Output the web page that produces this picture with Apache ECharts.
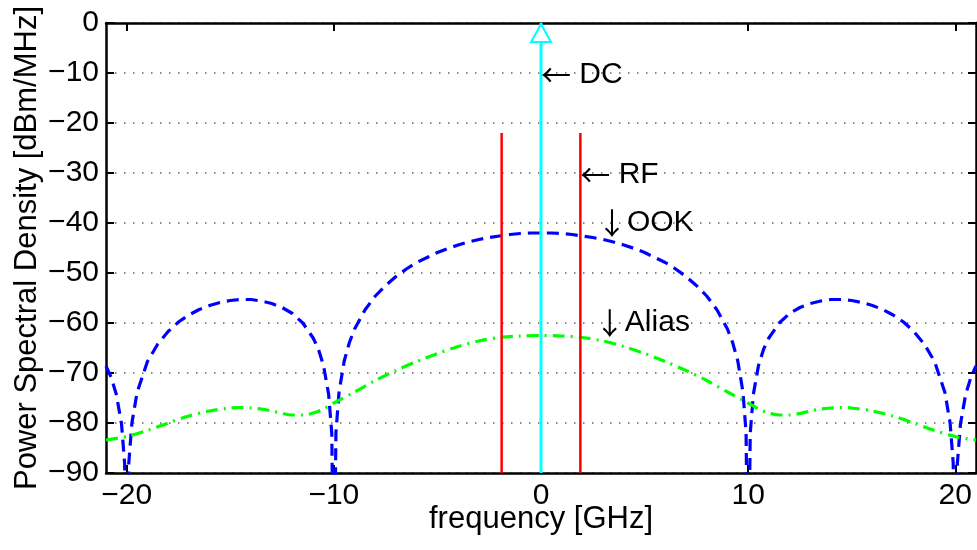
<!DOCTYPE html>
<html>
<head>
<meta charset="utf-8">
<script src="https://cdn.jsdelivr.net/npm/echarts@6/dist/echarts.min.js"></script>
<style>
  html, body { margin: 0; padding: 0; background: #fff; }
  #chart { width: 977px; height: 550px; }
</style>
</head>
<body>
<div id="chart"></div>
<script>
// ---------- data ----------
const xMin = -21, xMax = 21;
const yMin = -90, yMax = 0;
const xTicks = [-20, -10, 0, 10, 20];

// OOK power spectral density (blue dashed), dBm/MHz
const ookFreq = [
  -21, -20.75, -20.5, -20.25, -20.1, -20, -19.9, -19.75, -19.5, -19, -18.5, -18, -17.5, -17, -16.5, -16, -15.5, -15,
  -14.5, -14, -13.5, -13, -12.5, -12, -11.5, -11, -10.75, -10.5, -10.25, -10.1, -10, -9.9, -9.75, -9.5, -9.25,
  -9, -8.5, -8, -7.5, -7, -6.5, -6, -5.5, -5, -4.5, -4, -3.5, -3, -2.5, -2, -1.5, -1, -0.5,
  0,
  0.5, 1, 1.5, 2, 2.5, 3, 3.5, 4, 4.5, 5, 5.5, 6, 6.5, 7, 7.5, 8, 8.5, 9,
  9.25, 9.5, 9.75, 9.9, 10, 10.1, 10.25, 10.5, 10.75, 11, 11.5, 12, 12.5, 13, 13.5, 14, 14.5,
  15, 15.5, 16, 16.5, 17, 17.5, 18, 18.5, 19, 19.5, 19.75, 19.9, 20, 20.1, 20.25, 20.5, 20.75, 21
];
const ookPsd = [
  -68.6, -70.9, -74.3, -80.2, -88.1, -120, -88.0, -80.0, -73.9, -67.7, -64.2, -61.7, -59.8, -58.4, -57.3, -56.5, -55.9, -55.5,
  -55.3, -55.3, -55.6, -56.1, -56.9, -58.1, -60.0, -63.0, -65.2, -68.5, -74.3, -82.1, -120, -81.9, -73.8, -67.6, -63.9,
  -61.2, -57.4, -54.6, -52.5, -50.7, -49.2, -47.9, -46.9, -45.9, -45.1, -44.4, -43.8, -43.3, -42.9, -42.6, -42.3, -42.1, -42.0,
  -42.0,
  -42.0, -42.1, -42.3, -42.6, -42.9, -43.3, -43.8, -44.4, -45.1, -45.9, -46.9, -47.9, -49.2, -50.7, -52.5, -54.6, -57.4, -61.2,
  -63.9, -67.6, -73.8, -81.9, -120, -82.1, -74.3, -68.5, -65.2, -63.0, -60.0, -58.1, -56.9, -56.1, -55.6, -55.3, -55.3,
  -55.5, -55.9, -56.5, -57.3, -58.4, -59.8, -61.7, -64.2, -67.7, -73.9, -80.0, -88.0, -120, -88.1, -80.2, -74.3, -70.9, -68.6
];

// Alias spectrum (green dash-dot)
const aliasFreq = [
  -21, -20, -19, -18, -17, -16, -15, -14.5, -14, -13.5, -13, -12.5, -12, -11.5, -11, -10.5, -10,
  -9, -8, -7, -6, -5, -4, -3, -2, -1, 0, 1, 2, 3, 4, 5, 6, 7, 8, 9,
  10, 10.5, 11, 11.5, 12, 12.5, 13, 13.5, 14, 14.5, 15, 16, 17, 18, 19, 20, 21
];
const aliasPsd = [
  -83.4, -82.7, -81.5, -80.0, -78.6, -77.6, -77.0, -76.9, -77.0, -77.2, -77.6, -78.1, -78.4, -78.4, -78.0, -77.2, -76.0,
  -73.8, -71.5, -69.5, -67.7, -66.1, -64.7, -63.6, -62.9, -62.6, -62.5, -62.6, -62.9, -63.6, -64.7, -66.1, -67.7, -69.5, -71.5, -73.8,
  -76.0, -77.2, -78.0, -78.4, -78.4, -78.1, -77.6, -77.2, -77.0, -76.9, -77.0, -77.6, -78.6, -80.0, -81.5, -82.7, -83.4
];

// RF tones (red) and DC tone (cyan)
const rfFreq = [-1.9, 1.9];
const rfLevel = -22;
const dcFreq = 0;
const dcLevel = 0;

// text annotations (arrow glyph + word)
const noteArrow = ['\u2190', '\u2190', '\u2193', '\u2193'];
const noteWord = ['DC', 'RF', 'OOK', 'Alias'];
const noteFreq = [0, 1.9, 2.7, 2.6];
const noteLevel = [-10.3, -30.3, -40, -60];

// ---------- chart ----------
const FONT = '"Liberation Sans", Arial, Helvetica, "DejaVu Sans", sans-serif';
const ARROW_FONT = '"Noto Sans CJK JP", "Noto Sans CJK SC", "DejaVu Sans", sans-serif';
const minusFmt = v => (v < 0 ? '\u2212' + Math.abs(v) : String(v));

const chart = echarts.init(document.getElementById('chart'), null, { renderer: 'canvas' });

const axisLineStyle = { show: true, onZero: false, lineStyle: { color: '#000', width: 2.5 } };
const tickStyle = { show: true, inside: true, length: 8, lineStyle: { color: '#000', width: 2 } };

const series = [];
series.push({
  type: 'line', name: 'OOK',
  data: ookFreq.map((f, i) => [f, ookPsd[i]]),
  showSymbol: false, symbol: 'none', clip: true,
  lineStyle: { color: '#0000ff', width: 3.2, type: [12, 7] },
  z: 2
});
series.push({
  type: 'line', name: 'Alias',
  data: aliasFreq.map((f, i) => [f, aliasPsd[i]]),
  showSymbol: false, symbol: 'none', smooth: 0.3, clip: true,
  lineStyle: { color: '#00ff00', width: 3.2, type: [12, 6, 2, 6] },
  z: 3
});
rfFreq.forEach(f => {
  series.push({
    type: 'line', name: 'RF',
    data: [[f, yMin], [f, rfLevel]],
    showSymbol: false, symbol: 'none',
    lineStyle: { color: '#ff0000', width: 2.5 },
    z: 4
  });
});
series.push({
  type: 'line', name: 'DC',
  data: [
    { value: [dcFreq, yMin], symbol: 'none' },
    { value: [dcFreq, dcLevel], symbol: 'emptyTriangle', symbolSize: [20, 18], symbolOffset: [0, 10] }
  ],
  showSymbol: true, clip: false,
  lineStyle: { color: '#00ffff', width: 3 },
  itemStyle: { color: '#00ffff', borderColor: '#00ffff', borderWidth: 3 },
  z: 5
});
series.push({
  type: 'custom', name: 'notes',
  data: noteWord.map((w, i) => [noteFreq[i], noteLevel[i], i]),
  renderItem: function (params, api) {
    const i = api.value(2);
    const p = api.coord([api.value(0), api.value(1)]);
    const sep = noteArrow[i] === '\u2190' ? ' ' : '';
    return {
      type: 'text',
      x: p[0], y: p[1],
      style: {
        text: '{a|' + noteArrow[i] + '}{w|' + sep + noteWord[i] + '}',
        align: 'left', verticalAlign: 'middle',
        rich: {
          a: { fill: '#000', fontSize: 30, fontFamily: ARROW_FONT, verticalAlign: 'middle' },
          w: { fill: '#000', fontSize: 30, fontFamily: FONT, verticalAlign: 'middle' }
        }
      }
    };
  },
  clip: false,
  z: 6
});

chart.setOption({
  animation: false,
  backgroundColor: '#fff',
  grid: { left: 106, right: 1, top: 23, bottom: 77, containLabel: false },
  xAxis: [
    {
      type: 'value', min: xMin, max: xMax, position: 'bottom',
      axisLine: axisLineStyle,
      axisTick: Object.assign({}, tickStyle, { customValues: xTicks }),
      axisLabel: { customValues: xTicks, formatter: minusFmt, color: '#000', fontSize: 30, fontFamily: FONT, margin: 8 },
      splitLine: { show: false },
      name: 'frequency [GHz]', nameLocation: 'middle', nameGap: 31, nameMoveOverlap: false,
      nameTextStyle: { color: '#000', fontSize: 31, fontFamily: FONT }
    },
    {
      type: 'value', min: xMin, max: xMax, position: 'top',
      axisLine: axisLineStyle,
      axisTick: Object.assign({}, tickStyle, { customValues: xTicks }),
      axisLabel: { show: false },
      splitLine: { show: false }
    }
  ],
  yAxis: [
    {
      type: 'value', min: yMin, max: yMax, interval: 10, position: 'left',
      axisLine: axisLineStyle,
      axisTick: tickStyle,
      axisLabel: { formatter: minusFmt, color: '#000', fontSize: 30, fontFamily: FONT, margin: 7 },
      splitLine: { show: true, lineStyle: { color: '#666', width: 1.5, type: [1.5, 7.5] } },
      name: 'Power Spectral Density [dBm/MHz]', nameLocation: 'middle', nameGap: 63, nameRotate: 90, nameMoveOverlap: false,
      nameTextStyle: { color: '#000', fontSize: 31, fontFamily: FONT }
    },
    {
      type: 'value', min: yMin, max: yMax, interval: 10, position: 'right',
      axisLine: axisLineStyle,
      axisTick: tickStyle,
      axisLabel: { show: false },
      splitLine: { show: false }
    }
  ],
  series: series
});
</script>
</body>
</html>
